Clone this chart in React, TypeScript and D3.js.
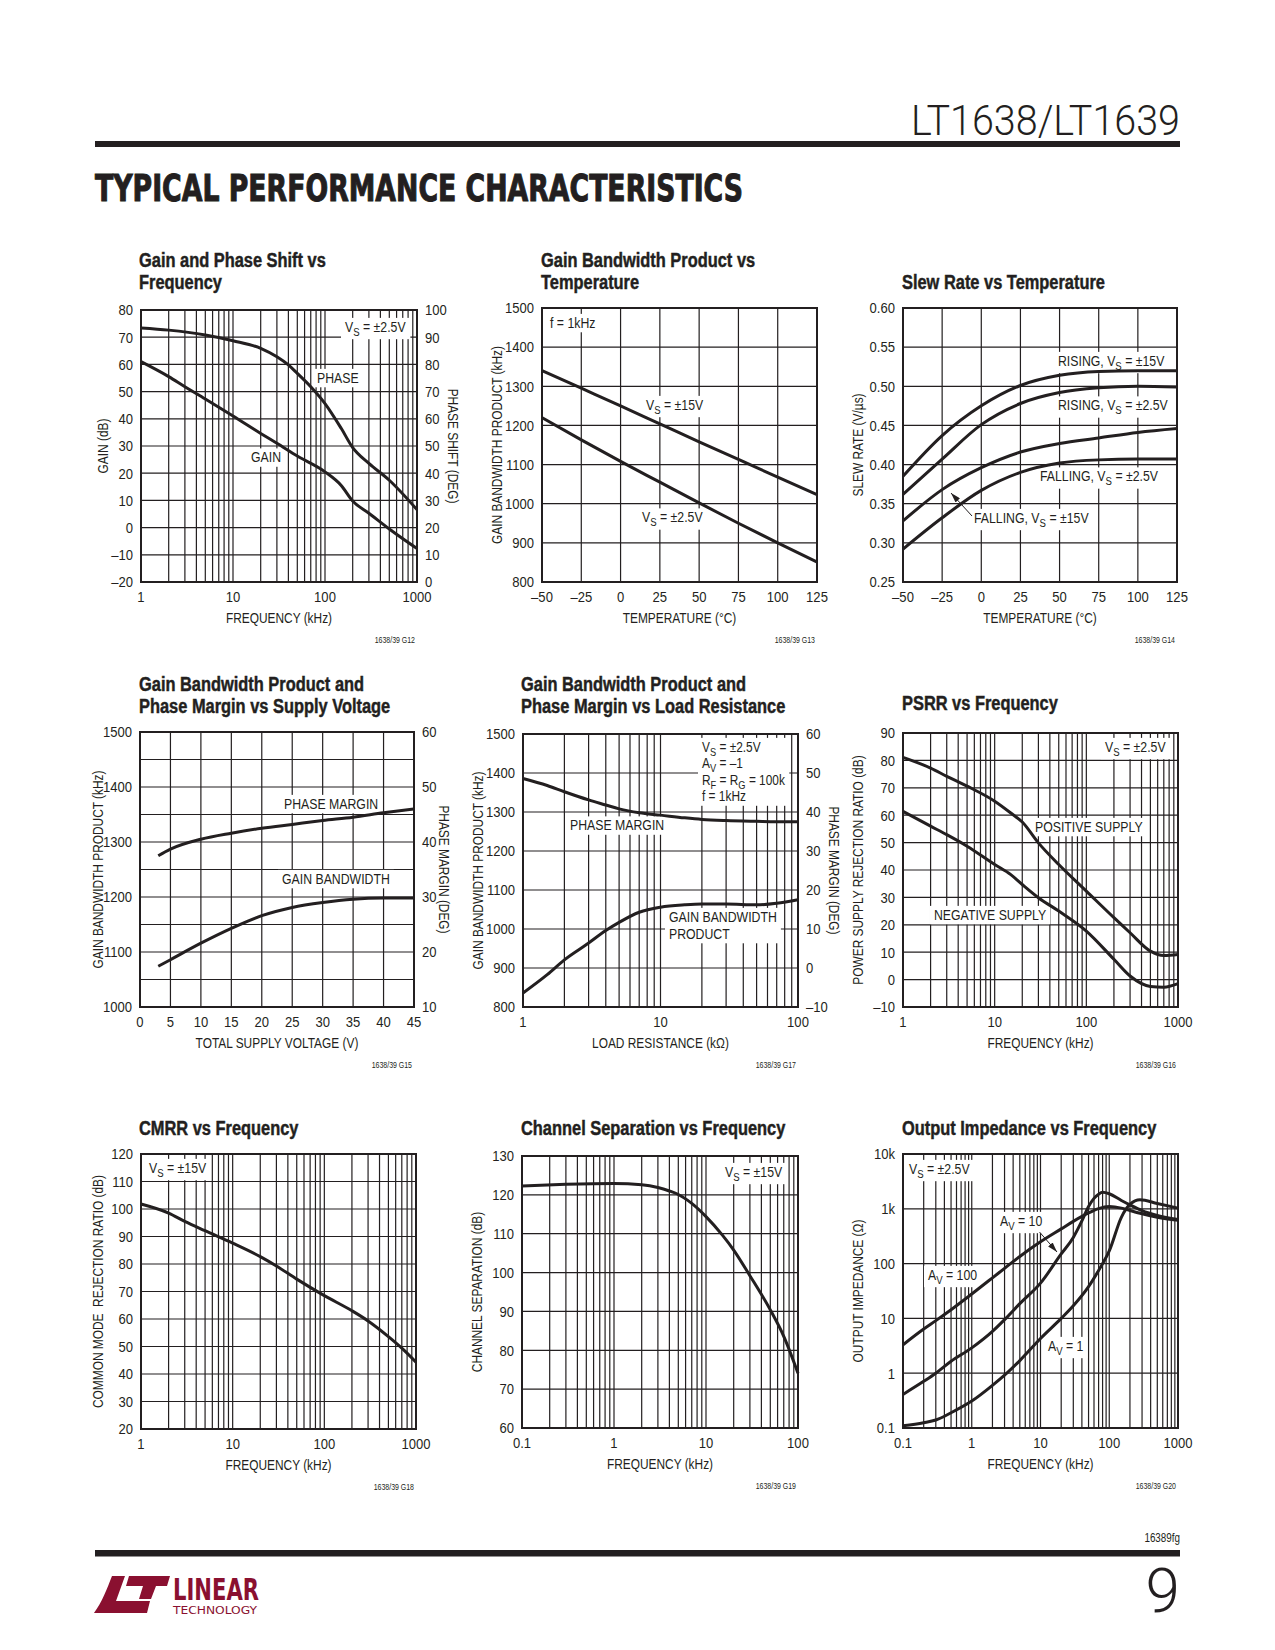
import React, { useEffect, useRef } from "react";
import * as d3 from "d3";

const INK = "#231f20";
const LOGO_RED = "#8a1030";
const SANS = "'Liberation Sans',Arial,Helvetica,sans-serif";
const COND = "'DejaVu Sans Condensed','DejaVu Sans',sans-serif";
const LIGHT = "Roboto,'Liberation Sans',sans-serif";
const SQUEEZE = 0.82;
const TICK_SQUEEZE = 0.87;

// ===== G12: Gain and Phase Shift vs Frequency =====
const g12Freq = [1, 2, 3, 5, 10, 20, 30, 50, 100, 150, 200, 300, 500, 1000];
const g12Gain = [61, 55.5, 51.8, 47.3, 41, 34.6, 31, 26.3, 20.5, 15.5, 9.8, 5.3, -0.5, -7.7];
const g12PhaseFreq = [1, 2, 5, 10, 20, 30, 40, 50, 70, 100, 150, 200, 300, 500, 1000];
const g12Phase = [93.4, 92.6, 90.8, 88.7, 85.9, 82.8, 79.8, 76.7, 71.8, 65.6, 56.5, 49.4, 43.6, 37.4, 26.6];
const g12FreqTicks = [1, 10, 100, 1000];
const g12GainTicks = [-20, -10, 0, 10, 20, 30, 40, 50, 60, 70, 80];
const g12PhaseTicks = [0, 10, 20, 30, 40, 50, 60, 70, 80, 90, 100];

// ===== G13: Gain Bandwidth Product vs Temperature =====
const g13Temp = [-50, -25, 0, 25, 50, 75, 100, 125];
const g13Vs15 = [1340, 1295, 1250, 1204, 1158, 1113, 1068, 1023];
const g13Vs25 = [1220, 1163, 1108, 1055, 1002, 950, 900, 851];
const g13TempTicks = [-50, -25, 0, 25, 50, 75, 100, 125];
const g13GbwTicks = [800, 900, 1000, 1100, 1200, 1300, 1400, 1500];

// ===== G14: Slew Rate vs Temperature =====
const g14Temp = [-50, -25, 0, 25, 50, 75, 100, 125];
const g14RiseVs15 = [0.385, 0.437, 0.475, 0.501, 0.514, 0.519, 0.52, 0.52];
const g14RiseVs25 = [0.362, 0.407, 0.451, 0.478, 0.492, 0.498, 0.5, 0.499];
const g14FallVs15 = [0.328, 0.368, 0.396, 0.416, 0.427, 0.434, 0.441, 0.446];
const g14FallVs25 = [0.292, 0.332, 0.367, 0.39, 0.402, 0.406, 0.407, 0.407];
const g14TempTicks = [-50, -25, 0, 25, 50, 75, 100, 125];
const g14SlewTicks = [0.25, 0.3, 0.35, 0.4, 0.45, 0.5, 0.55, 0.6];

// ===== G15: GBW and Phase Margin vs Supply Voltage =====
const g15Volt = [3, 5, 10, 15, 20, 25, 30, 35, 40, 45];
const g15Gbw = [1074, 1086, 1116, 1143, 1166, 1181, 1190, 1196, 1198, 1198];
const g15PhaseMargin = [37.5, 38.7, 40.5, 41.6, 42.5, 43.2, 43.9, 44.5, 45.3, 46];
const g15VoltTicks = [0, 5, 10, 15, 20, 25, 30, 35, 40, 45];
const g15GbwTicks = [1000, 1100, 1200, 1300, 1400, 1500];
const g15GbwGrid = [1000, 1050, 1100, 1150, 1200, 1250, 1300, 1350, 1400, 1450, 1500];
const g15PmTicks = [10, 20, 30, 40, 50, 60];

// ===== G17: GBW and Phase Margin vs Load Resistance =====
const g17Load = [1, 1.5, 2, 3, 4, 5, 7, 10, 15, 20, 30, 50, 70, 100];
const g17Gbw = [836, 883, 921, 964, 996, 1017, 1043, 1056, 1062, 1064, 1064, 1062, 1066, 1075];
const g17PhaseMargin = [48.6, 46.8, 45.2, 43.1, 41.8, 40.8, 39.8, 39.2, 38.5, 38.1, 37.8, 37.6, 37.5, 37.5];
const g17LoadTicks = [1, 10, 100];
const g17GbwTicks = [800, 900, 1000, 1100, 1200, 1300, 1400, 1500];
const g17PmTicks = [-10, 0, 10, 20, 30, 40, 50, 60];

// ===== G16: PSRR vs Frequency =====
const g16Freq = [1, 2, 3, 5, 10, 15, 20, 30, 50, 100, 200, 300, 500, 700, 1000];
const g16Positive = [81.1, 77.2, 74.2, 70.6, 65.1, 60.8, 57.5, 49.9, 42, 32.3, 22.6, 17.1, 10.4, 8.8, 9.2];
const g16Negative = [61.4, 56, 52.9, 48.7, 42, 38.3, 34.7, 29.9, 25, 17.7, 7.4, 1.3, -2.5, -2.8, -1.5];
const g16FreqTicks = [1, 10, 100, 1000];
const g16PsrrTicks = [-10, 0, 10, 20, 30, 40, 50, 60, 70, 80, 90];

// ===== G18: CMRR vs Frequency =====
const g18Freq = [1, 2, 3, 5, 10, 20, 30, 50, 100, 200, 300, 500, 700, 1000];
const g18Cmrr = [101.8, 98.5, 95.5, 92.1, 87.6, 82.7, 79.3, 74.5, 68.5, 63, 59.3, 53.6, 49.4, 44.3];
const g18FreqTicks = [1, 10, 100, 1000];
const g18CmrrTicks = [20, 30, 40, 50, 60, 70, 80, 90, 100, 110, 120];

// ===== G19: Channel Separation vs Frequency =====
const g19Freq = [0.1, 0.3, 1, 2, 3, 4, 5, 7, 10, 15, 20, 30, 50, 70, 100];
const g19Sep = [122.3, 122.7, 122.9, 122.6, 121.9, 121, 120.1, 117.8, 114.4, 109.7, 105.8, 99.2, 90.4, 83.6, 74.1];
const g19FreqTicks = [0.1, 1, 10, 100];
const g19SepTicks = [60, 70, 80, 90, 100, 110, 120, 130];

// ===== G20: Output Impedance vs Frequency =====
const g20Freq = [0.1, 0.2, 0.3, 0.5, 1, 2, 3, 5, 10, 20, 30, 50, 70, 100, 150, 200, 300, 500, 1000];
const g20Av100 = [3.3, 6.4, 9.1, 14.4, 27.9, 55, 82, 135, 250, 430, 590, 840, 1010, 1100, 1030, 930, 810, 700, 615];
const g20Av10Freq = [0.1, 0.2, 0.3, 0.5, 1, 2, 3, 5, 10, 20, 30, 40, 50, 60, 70, 80, 100, 150, 200, 300, 500, 1000];
const g20Av10 = [0.41, 0.71, 1.0, 1.65, 2.9, 5.8, 9.5, 18.6, 44, 150, 300, 600, 1100, 1550, 1850, 2000, 1880, 1420, 1180, 930, 760, 640];
const g20Av1Freq = [0.1, 0.2, 0.3, 0.5, 1, 2, 3, 5, 10, 20, 30, 50, 70, 100, 150, 200, 280, 500, 1000];
const g20Av1 = [0.11, 0.125, 0.14, 0.19, 0.31, 0.6, 0.92, 1.7, 4.3, 10, 17, 38, 75, 170, 700, 1200, 1460, 1250, 1030];
const g20FreqTicks = [0.1, 1, 10, 100, 1000];
const g20ZTicks = [0.1, 1, 10, 100, 1000, 10000];

// ---------- helpers ----------
type Axis = {
  type: "log" | "linear";
  domain: [number, number];
  ticks: number[];
  grid: number[];
  fmt?: (v: number) => string;
};
type Series = { x: number[]; y: number[]; right?: boolean };
type Label = { lines: string[]; x: number; y: number; box?: boolean; lh?: number; size?: number };
type Spec = {
  box: [number, number, number, number];
  title: string[];
  titleX: number;
  titleY: number;
  x: Axis;
  yl: Axis;
  yr?: Axis;
  xTitle: string;
  ylTitle: string;
  ylTitleX: number;
  yrTitle?: string;
  yrTitleX?: number;
  code: string;
  series: Series[];
  labels: Label[];
  arrows?: [number, number, number, number][];
};

const fmtNum = (v: number) => (v < 0 ? "\u2013" + Math.abs(v) : String(v));
const fmtSlew = (v: number) => v.toFixed(2);
const fmtK = (v: number) => (v >= 1000 ? v / 1000 + "k" : String(v));

function logGrid(lo: number, hi: number): number[] {
  const out: number[] = [];
  const e0 = Math.round(Math.log10(lo));
  const e1 = Math.round(Math.log10(hi));
  for (let e = e0; e < e1; e++) for (let k = 1; k < 10; k++) out.push(k * Math.pow(10, e));
  out.push(hi);
  return out;
}

// condense a plain text element horizontally (simulates a narrow face)
function squeeze(node: SVGTextElement, f: number = SQUEEZE) {
  if (node.hasAttribute("textLength") || node.hasAttribute("data-sq")) return;
  const L = node.getComputedTextLength();
  if (L > 0) {
    node.setAttribute("textLength", String(L * f));
    node.setAttribute("lengthAdjust", "spacingAndGlyphs");
  }
}

function richText(t: any, str: string, size: number) {
  const parts = str.split(/(_\{[^}]*\})/).filter((p) => p.length > 0);
  let down = false;
  for (const p of parts) {
    const m = /^_\{([^}]*)\}$/.exec(p);
    if (m) {
      t.append("tspan").attr("dy", 4).attr("font-size", size * 0.78).text(m[1]);
      down = true;
    } else {
      const sp = t.append("tspan").text(p);
      if (down) {
        sp.attr("dy", -4);
        down = false;
      }
    }
  }
}

function drawChart(svg: any, s: Spec) {
  const [x0, y0, x1, y1] = s.box;
  const mk = (a: Axis, r: [number, number]) =>
    (a.type === "log" ? d3.scaleLog() : d3.scaleLinear()).domain(a.domain).range(r);
  const xs = mk(s.x, [x0, x1]);
  const ysL = mk(s.yl, [y1, y0]);
  const ysR = s.yr ? mk(s.yr, [y1, y0]) : ysL;
  const g = svg.append("g");
  const gGrid = g.append("g").attr("stroke", INK).attr("stroke-width", 1.2);
  const gBox = g.append("g").attr("fill", "#fff");
  const gFrame = g.append("g");
  const gLine = g.append("g");
  const gText = g.append("g").attr("fill", INK);

  gGrid.selectAll("line.v").data(s.x.grid).join("line").attr("class", "v")
    .attr("x1", (d: number) => xs(d)).attr("x2", (d: number) => xs(d)).attr("y1", y0).attr("y2", y1);
  gGrid.selectAll("line.h").data(s.yl.grid).join("line").attr("class", "h")
    .attr("y1", (d: number) => ysL(d)).attr("y2", (d: number) => ysL(d)).attr("x1", x0).attr("x2", x1);
  gFrame.append("rect").attr("x", x0).attr("y", y0).attr("width", x1 - x0).attr("height", y1 - y0)
    .attr("fill", "none").attr("stroke", INK).attr("stroke-width", 2);

  const xf = s.x.fmt || fmtNum;
  gText.selectAll("text.xt").data(s.x.ticks).join("text").attr("class", "xt tick")
    .attr("x", (d: number) => xs(d)).attr("y", y1 + 20).attr("text-anchor", "middle")
    .attr("font-size", 15).text((d: number) => xf(d));
  const ylf = s.yl.fmt || fmtNum;
  gText.selectAll("text.ylt").data(s.yl.ticks).join("text").attr("class", "ylt tick")
    .attr("x", x0 - 8).attr("y", (d: number) => ysL(d) + 5.3).attr("text-anchor", "end")
    .attr("font-size", 15).text((d: number) => ylf(d));
  if (s.yr) {
    const yrf = s.yr.fmt || fmtNum;
    gText.selectAll("text.yrt").data(s.yr.ticks).join("text").attr("class", "yrt tick")
      .attr("x", x1 + 8).attr("y", (d: number) => ysR(d) + 5.3).attr("text-anchor", "start")
      .attr("font-size", 15).text((d: number) => yrf(d));
  }

  s.title.forEach((t, i) =>
    gText.append("text").attr("x", s.titleX).attr("y", s.titleY + i * 21.7)
      .attr("font-size", 20).attr("font-weight", "bold")
      .attr("stroke", INK).attr("stroke-width", 0.45).text(t));

  const cy = (y0 + y1) / 2;
  gText.append("text").attr("x", (x0 + x1) / 2).attr("y", y1 + 40.5).attr("text-anchor", "middle")
    .attr("font-size", 14.5).text(s.xTitle);
  gText.append("text").attr("transform", `translate(${s.ylTitleX + 5},${cy}) rotate(-90)`)
    .attr("text-anchor", "middle").attr("font-size", 14.5).style("white-space", "pre").text(s.ylTitle);
  if (s.yrTitle) {
    gText.append("text").attr("transform", `translate(${(s.yrTitleX as number) - 5},${cy}) rotate(90)`)
      .attr("text-anchor", "middle").attr("font-size", 14.5).text(s.yrTitle);
  }
  gText.append("text").attr("x", x1 - 2).attr("y", y1 + 61).attr("text-anchor", "end")
    .attr("font-size", 8.5).text(s.code);

  const line = d3.line<[number, number]>().curve(d3.curveMonotoneX);
  s.series.forEach((se) => {
    const ys = se.right ? ysR : ysL;
    const pts: [number, number][] = se.x.map((v, i) => [xs(v), ys(se.y[i])]);
    gLine.append("path").attr("d", line(pts)).attr("fill", "none").attr("stroke", INK)
      .attr("stroke-width", 3).attr("stroke-linejoin", "round");
  });

  s.labels.forEach((l) => {
    const lh = l.lh ?? 16.5;
    const size = l.size ?? 15;
    const boxes = l.lines.map((str, i) => {
      const t = gText.append("text").attr("x", l.x).attr("y", l.y + i * lh).attr("font-size", size)
        .attr("data-sq", "1")
        .attr("transform", `translate(${l.x},0) scale(${SQUEEZE},1) translate(${-l.x},0)`);
      richText(t, str, size);
      const b = (t.node() as SVGTextElement).getBBox();
      return { x: l.x + (b.x - l.x) * SQUEEZE, y: b.y, w: b.width * SQUEEZE, h: b.height };
    });
    if (l.box) {
      const bx0 = Math.min(...boxes.map((b) => b.x));
      const by0 = Math.min(...boxes.map((b) => b.y));
      const bx1 = Math.max(...boxes.map((b) => b.x + b.w));
      const by1 = Math.max(...boxes.map((b) => b.y + b.h));
      gBox.append("rect").attr("x", bx0 - 4).attr("y", by0 - 1).attr("width", bx1 - bx0 + 8)
        .attr("height", by1 - by0 + 2);
    }
  });

  (s.arrows || []).forEach(([ax, ay, bx, by]) => {
    gText.append("line").attr("x1", ax).attr("y1", ay).attr("x2", bx).attr("y2", by)
      .attr("stroke", INK).attr("stroke-width", 1).attr("marker-end", "url(#arrowhead)");
  });

  gText.selectAll("text.tick").each(function (this: SVGTextElement) {
    squeeze(this, TICK_SQUEEZE);
  });
  gText.selectAll("text").each(function (this: SVGTextElement) {
    squeeze(this);
  });
}

const specs: Spec[] = [
  {
    box: [141, 310, 417, 582],
    title: ["Gain and Phase Shift vs", "Frequency"], titleX: 139, titleY: 267,
    x: { type: "log", domain: [1, 1000], ticks: g12FreqTicks, grid: logGrid(1, 1000) },
    yl: { type: "linear", domain: [-20, 80], ticks: g12GainTicks, grid: g12GainTicks },
    yr: { type: "linear", domain: [0, 100], ticks: g12PhaseTicks, grid: [] },
    xTitle: "FREQUENCY (kHz)", ylTitle: "GAIN (dB)", ylTitleX: 103,
    yrTitle: "PHASE SHIFT (DEG)", yrTitleX: 453, code: "1638/39 G12",
    series: [{ x: g12Freq, y: g12Gain }, { x: g12PhaseFreq, y: g12Phase, right: true }],
    labels: [
      { lines: ["V_{S} = ±2.5V"], x: 345, y: 332, box: true },
      { lines: ["PHASE"], x: 317, y: 383, box: true },
      { lines: ["GAIN"], x: 251, y: 462.5, box: true },
    ],
  },
  {
    box: [542, 308, 817, 582],
    title: ["Gain Bandwidth Product vs", "Temperature"], titleX: 541, titleY: 267,
    x: { type: "linear", domain: [-50, 125], ticks: g13TempTicks, grid: g13TempTicks },
    yl: { type: "linear", domain: [800, 1500], ticks: g13GbwTicks, grid: g13GbwTicks },
    xTitle: "TEMPERATURE (°C)", ylTitle: "GAIN BANDWIDTH PRODUCT (kHz)", ylTitleX: 497,
    code: "1638/39 G13",
    series: [{ x: g13Temp, y: g13Vs15 }, { x: g13Temp, y: g13Vs25 }],
    labels: [
      { lines: ["f = 1kHz"], x: 550, y: 328, box: true },
      { lines: ["V_{S} = ±15V"], x: 646, y: 410, box: true },
      { lines: ["V_{S} = ±2.5V"], x: 642, y: 522.5, box: true },
    ],
  },
  {
    box: [903, 308, 1177, 582],
    title: ["Slew Rate vs Temperature"], titleX: 902, titleY: 288.5,
    x: { type: "linear", domain: [-50, 125], ticks: g14TempTicks, grid: g14TempTicks },
    yl: { type: "linear", domain: [0.25, 0.6], ticks: g14SlewTicks, grid: g14SlewTicks, fmt: fmtSlew },
    xTitle: "TEMPERATURE (°C)", ylTitle: "SLEW RATE (V/µs)", ylTitleX: 858,
    code: "1638/39 G14",
    series: [
      { x: g14Temp, y: g14RiseVs15 }, { x: g14Temp, y: g14RiseVs25 },
      { x: g14Temp, y: g14FallVs15 }, { x: g14Temp, y: g14FallVs25 },
    ],
    labels: [
      { lines: ["RISING, V_{S} = ±15V"], x: 1058, y: 366, box: true },
      { lines: ["RISING, V_{S} = ±2.5V"], x: 1058, y: 410.5, box: true },
      { lines: ["FALLING, V_{S} = ±2.5V"], x: 1040, y: 481.5, box: true },
      { lines: ["FALLING, V_{S} = ±15V"], x: 974, y: 523, box: true },
    ],
    arrows: [[972, 516, 951, 493]],
  },
  {
    box: [140, 732, 414, 1007],
    title: ["Gain Bandwidth Product and", "Phase Margin vs Supply Voltage"], titleX: 139, titleY: 691,
    x: { type: "linear", domain: [0, 45], ticks: g15VoltTicks, grid: g15VoltTicks },
    yl: { type: "linear", domain: [1000, 1500], ticks: g15GbwTicks, grid: g15GbwGrid },
    yr: { type: "linear", domain: [10, 60], ticks: g15PmTicks, grid: [] },
    xTitle: "TOTAL SUPPLY VOLTAGE (V)", ylTitle: "GAIN BANDWIDTH PRODUCT (kHz)", ylTitleX: 98,
    yrTitle: "PHASE MARGIN (DEG)", yrTitleX: 444, code: "1638/39 G15",
    series: [{ x: g15Volt, y: g15Gbw }, { x: g15Volt, y: g15PhaseMargin, right: true }],
    labels: [
      { lines: ["PHASE MARGIN"], x: 284, y: 809, box: true },
      { lines: ["GAIN BANDWIDTH"], x: 282, y: 884, box: true },
    ],
  },
  {
    box: [523, 734, 798, 1007],
    title: ["Gain Bandwidth Product and", "Phase Margin vs Load Resistance"], titleX: 521, titleY: 691,
    x: { type: "log", domain: [1, 100], ticks: g17LoadTicks, grid: logGrid(1, 100) },
    yl: { type: "linear", domain: [800, 1500], ticks: g17GbwTicks, grid: g17GbwTicks },
    yr: { type: "linear", domain: [-10, 60], ticks: g17PmTicks, grid: [] },
    xTitle: "LOAD RESISTANCE (kΩ)", ylTitle: "GAIN BANDWIDTH PRODUCT (kHz)", ylTitleX: 478,
    yrTitle: "PHASE MARGIN (DEG)", yrTitleX: 834, code: "1638/39 G17",
    series: [{ x: g17Load, y: g17Gbw }, { x: g17Load, y: g17PhaseMargin, right: true }],
    labels: [
      { lines: ["V_{S} = ±2.5V", "A_{V} = \u20131", "R_{F} = R_{G} = 100k", "f = 1kHz"], x: 702, y: 752, box: true, lh: 16.5, size: 14.5 },
      { lines: ["PHASE MARGIN"], x: 570, y: 830.5, box: true },
      { lines: ["GAIN BANDWIDTH", "PRODUCT"], x: 669, y: 922, box: true, lh: 17 },
    ],
  },
  {
    box: [903, 733, 1178, 1007],
    title: ["PSRR vs Frequency"], titleX: 902, titleY: 710,
    x: { type: "log", domain: [1, 1000], ticks: g16FreqTicks, grid: logGrid(1, 1000) },
    yl: { type: "linear", domain: [-10, 90], ticks: g16PsrrTicks, grid: g16PsrrTicks },
    xTitle: "FREQUENCY (kHz)", ylTitle: "POWER SUPPLY REJECTION RATIO (dB)", ylTitleX: 858,
    code: "1638/39 G16",
    series: [{ x: g16Freq, y: g16Positive }, { x: g16Freq, y: g16Negative }],
    labels: [
      { lines: ["V_{S} = ±2.5V"], x: 1105, y: 752, box: true },
      { lines: ["POSITIVE SUPPLY"], x: 1035, y: 832, box: true },
      { lines: ["NEGATIVE SUPPLY"], x: 934, y: 920, box: true },
    ],
  },
  {
    box: [141, 1154, 416, 1429],
    title: ["CMRR vs Frequency"], titleX: 139, titleY: 1135,
    x: { type: "log", domain: [1, 1000], ticks: g18FreqTicks, grid: logGrid(1, 1000) },
    yl: { type: "linear", domain: [20, 120], ticks: g18CmrrTicks, grid: g18CmrrTicks },
    xTitle: "FREQUENCY (kHz)", ylTitle: "COMMON MODE  REJECTION RATIO (dB)", ylTitleX: 98,
    code: "1638/39 G18",
    series: [{ x: g18Freq, y: g18Cmrr }],
    labels: [{ lines: ["V_{S} = ±15V"], x: 149, y: 1173, box: true }],
  },
  {
    box: [522, 1156, 798, 1428],
    title: ["Channel Separation vs Frequency"], titleX: 521, titleY: 1135,
    x: { type: "log", domain: [0.1, 100], ticks: g19FreqTicks, grid: logGrid(0.1, 100) },
    yl: { type: "linear", domain: [60, 130], ticks: g19SepTicks, grid: g19SepTicks },
    xTitle: "FREQUENCY (kHz)", ylTitle: "CHANNEL SEPARATION (dB)", ylTitleX: 477,
    code: "1638/39 G19",
    series: [{ x: g19Freq, y: g19Sep }],
    labels: [{ lines: ["V_{S} = ±15V"], x: 725, y: 1177, box: true }],
  },
  {
    box: [903, 1154, 1178, 1428],
    title: ["Output Impedance vs Frequency"], titleX: 902, titleY: 1135,
    x: { type: "log", domain: [0.1, 1000], ticks: g20FreqTicks, grid: logGrid(0.1, 1000) },
    yl: { type: "log", domain: [0.1, 10000], ticks: g20ZTicks, grid: g20ZTicks, fmt: fmtK },
    xTitle: "FREQUENCY (kHz)", ylTitle: "OUTPUT IMPEDANCE (Ω)", ylTitleX: 858,
    code: "1638/39 G20",
    series: [
      { x: g20Freq, y: g20Av100 },
      { x: g20Av10Freq, y: g20Av10 },
      { x: g20Av1Freq, y: g20Av1 },
    ],
    labels: [
      { lines: ["V_{S} = ±2.5V"], x: 909, y: 1174, box: true },
      { lines: ["A_{V} = 10"], x: 1000, y: 1226, box: true },
      { lines: ["A_{V} = 100"], x: 928, y: 1280, box: true },
      { lines: ["A_{V} = 1"], x: 1048, y: 1351, box: true },
    ],
    arrows: [[1039.5, 1232, 1057, 1252]],
  },
];

function drawPage(svg: any) {
  svg.append("rect").attr("width", 1275).attr("height", 1650).attr("fill", "#fff");
  const defs = svg.append("defs");
  defs.append("marker").attr("id", "arrowhead").attr("markerUnits", "userSpaceOnUse")
    .attr("markerWidth", 10).attr("markerHeight", 6).attr("refX", 10).attr("refY", 3)
    .attr("orient", "auto")
    .append("path").attr("d", "M0,0 L10,3 L0,6 Z").attr("fill", INK);

  // header
  svg.append("text").attr("x", 911).attr("y", 135).attr("font-family", LIGHT).attr("font-weight", 300)
    .attr("font-size", 42).attr("textLength", 269).attr("lengthAdjust", "spacingAndGlyphs")
    .attr("fill", INK).text("LT1638/LT1639");
  svg.append("rect").attr("x", 95).attr("y", 141).attr("width", 1085).attr("height", 6).attr("fill", INK);
  svg.append("text").attr("x", 95).attr("y", 201).attr("font-family", COND).attr("font-weight", 900)
    .attr("font-size", 37).attr("textLength", 648).attr("lengthAdjust", "spacingAndGlyphs").attr("fill", INK)
    .attr("stroke", INK).attr("stroke-width", 1).text("TYPICAL PERFORMANCE CHARACTERISTICS");

  // footer
  const code = svg.append("text").attr("x", 1180).attr("y", 1542).attr("text-anchor", "end")
    .attr("font-size", 12).attr("fill", INK).text("16389fg");
  squeeze(code.node());
  svg.append("rect").attr("x", 95).attr("y", 1550).attr("width", 1085).attr("height", 6.5).attr("fill", INK);
  svg.append("text").attr("x", 1180).attr("y", 1612).attr("text-anchor", "end").attr("font-family", LIGHT)
    .attr("font-weight", 300).attr("font-size", 62).attr("fill", INK).text("9");

  // logo
  const logo = svg.append("g").attr("fill", LOGO_RED).attr("font-family", COND);
  logo.append("path").attr("d", "M94,1613 C102,1602 107,1589 112,1576 L125,1576 L116,1601 L150,1601 L147,1613 Z");
  logo.append("path").attr("d", "M129,1576 L170,1576 L167,1586 L156,1586 L151,1599 L139,1599 L143,1586 L126,1586 Z");
  logo.append("text").attr("x", 173).attr("y", 1600).attr("font-size", 30).attr("font-weight", "bold")
    .attr("textLength", 86).attr("lengthAdjust", "spacingAndGlyphs").text("LINEAR");
  logo.append("text").attr("x", 173).attr("y", 1614).attr("font-size", 11)
    .attr("textLength", 84).attr("lengthAdjust", "spacingAndGlyphs").text("TECHNOLOGY");

  specs.forEach((s) => drawChart(svg, s));
}

export default function App() {
  const ref = useRef<SVGSVGElement>(null);
  useEffect(() => {
    const svg = d3.select(ref.current);
    svg.selectAll("*").remove();
    drawPage(svg);
  }, []);
  return (
    <svg
      ref={ref}
      width={1275}
      height={1650}
      style={{ position: "absolute", left: 0, top: 0, background: "#fff", fontFamily: SANS }}
    />
  );
}
